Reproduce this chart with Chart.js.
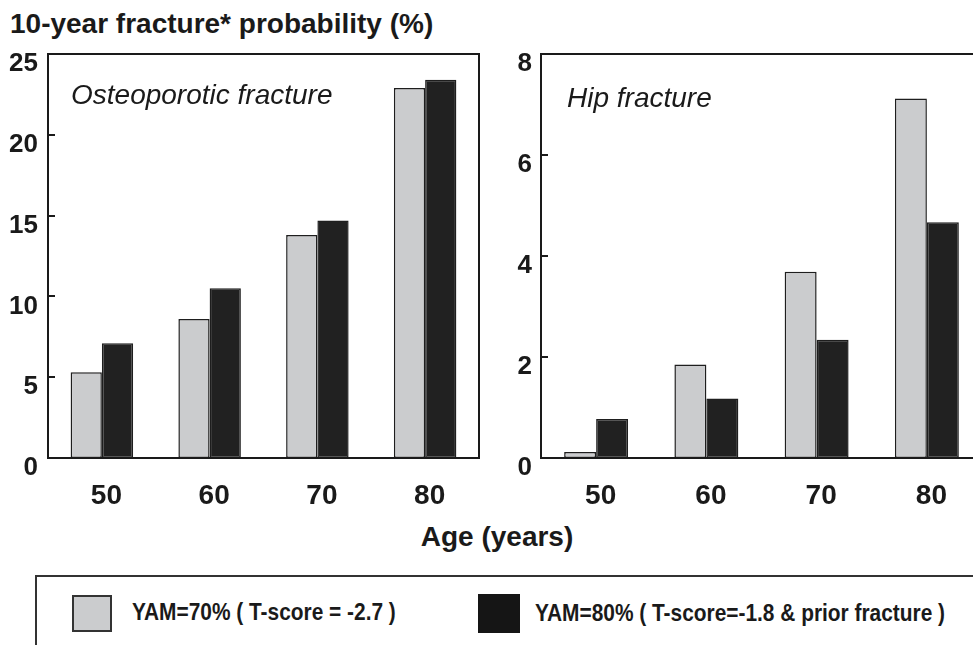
<!DOCTYPE html>
<html>
<head>
<meta charset="utf-8">
<script src="https://cdn.jsdelivr.net/npm/chart.js@4.4.1/dist/chart.umd.min.js"></script>
<style>
  html, body { margin:0; padding:0; background:#fff; }
  body { width:973px; height:645px; overflow:hidden; position:relative; font-family:"Liberation Sans", Arial, sans-serif; color:#1a1a1a; }
  .abs { position:absolute; white-space:nowrap; }
  #title { left:10px; top:10px; font-size:28px; font-weight:bold; line-height:28px; }
  .panelLabel { font-size:28px; font-style:italic; line-height:28px; }
  #xtitle { left:497px; top:523px; font-size:28px; font-weight:bold; line-height:28px; transform:translateX(-50%); }
  #legend { left:35px; top:575px; width:980px; height:90px; border-top:2px solid #333; border-left:2px solid #333; }
  .lgText { font-size:24px; font-weight:bold; line-height:24px; transform:scaleX(0.87); transform-origin:left center; }
  .sw { position:absolute; box-sizing:border-box; }
</style>
</head>
<body>
<div id="title" class="abs">10-year fracture* probability (%)</div>
<canvas id="c1" width="490" height="520" class="abs" style="left:0;top:0;"></canvas>
<canvas id="c2" width="500" height="520" class="abs" style="left:490px;top:0;"></canvas>
<div id="lab1" class="abs panelLabel" style="left:71px;top:81px;"></div>
<div id="lab2" class="abs panelLabel" style="left:567px;top:84px;"></div>
<div id="xtitle" class="abs"></div>
<div id="legend" class="abs"></div>
<div id="sw1" class="sw" style="left:72px;top:595px;width:40px;height:37px;"></div>
<div id="lg1" class="abs lgText" style="left:132px;top:600px;"></div>
<div id="sw2" class="sw" style="left:478px;top:594px;width:42px;height:39px;"></div>
<div id="lg2" class="abs lgText" style="left:535px;top:601px;"></div>
<script>
// ---- data ----
const categories = ['50', '60', '70', '80'];
const seriesLabels = ['YAM=70% ( T-score = -2.7 )', 'YAM=80% ( T-score=-1.8 & prior fracture )'];
const osteoYam70 = [5.3, 8.6, 13.8, 22.9];
const osteoYam80 = [7.1, 10.5, 14.7, 23.4];
const hipYam70 = [0.12, 1.85, 3.69, 7.12];
const hipYam80 = [0.77, 1.18, 2.34, 4.67];
const osteoTicks = [0, 5, 10, 15, 20, 25];
const hipTicks = [0, 2, 4, 6, 8];
const panelTitles = ['Osteoporotic fracture', 'Hip fracture'];
const xAxisTitle = 'Age (years)';

// ---- styles ----
const GRAY = '#cbccce', BLACK = '#212121', EDGE = '#1e1e1e', INK = '#1a1a1a';
const FONT = '"Liberation Sans", Arial, sans-serif';

document.getElementById('lab1').textContent = panelTitles[0];
document.getElementById('lab2').textContent = panelTitles[1];
document.getElementById('xtitle').textContent = xAxisTitle;
document.getElementById('lg1').textContent = seriesLabels[0];
document.getElementById('lg2').textContent = seriesLabels[1];
const sw1 = document.getElementById('sw1');
sw1.style.background = GRAY; sw1.style.border = '2px solid #333';
const sw2 = document.getElementById('sw2');
sw2.style.background = '#151515';

// frame around the plot area + short inward tick marks on the value axis
const boxPlugin = {
  id: 'box',
  afterDraw(chart) {
    const a = chart.chartArea, ctx = chart.ctx, ys = chart.scales.y;
    ctx.save();
    ctx.strokeStyle = INK;
    ctx.lineWidth = 2;
    ctx.strokeRect(a.left, a.top, a.right - a.left, a.bottom - a.top);
    ctx.beginPath();
    ys.ticks.forEach(t => {
      const py = Math.round(ys.getPixelForValue(t.value));
      ctx.moveTo(a.left, py);
      ctx.lineTo(a.left + 7, py);
    });
    ctx.stroke();
    ctx.restore();
  }
};

function makeChart(id, d1, d2, ticks, yWidth, padRight, yPad) {
  const maxV = ticks[ticks.length - 1];
  const step = ticks[1] - ticks[0];
  return new Chart(document.getElementById(id), {
    type: 'bar',
    data: {
      labels: categories,
      datasets: [
        { label: seriesLabels[0], data: d1, backgroundColor: GRAY, borderColor: EDGE, borderWidth: 1.5, borderSkipped: false },
        { label: seriesLabels[1], data: d2, backgroundColor: BLACK, borderColor: EDGE, borderWidth: 1.5, borderSkipped: false }
      ]
    },
    options: {
      responsive: false,
      animation: false,
      devicePixelRatio: 1,
      layout: { padding: { top: 54, left: 0, right: padRight, bottom: 12 } },
      plugins: { legend: { display: false }, title: { display: false }, tooltip: { enabled: false } },
      datasets: { bar: { categoryPercentage: 0.58, barPercentage: 1.0 } },
      scales: {
        x: {
          grid: { display: false, drawTicks: false },
          border: { display: false },
          ticks: { color: INK, font: { family: FONT, size: 28, weight: 'bold' }, padding: 21, labelOffset: 4.5, maxRotation: 0 },
          afterFit(s) { s.height = 50; }
        },
        y: {
          min: 0, max: maxV,
          grid: { display: true, drawOnChartArea: false, drawTicks: false, lineWidth: 0 },
          border: { display: false },
          ticks: { stepSize: step, color: INK, font: { family: FONT, size: 26, weight: 'bold' }, padding: yPad, labelOffset: 10 },
          afterFit(s) { s.width = yWidth; }
        }
      }
    },
    plugins: [boxPlugin]
  });
}

makeChart('c1', osteoYam70, osteoYam80, osteoTicks, 48, 11, 10);
makeChart('c2', hipYam70, hipYam80, hipTicks, 51, 8, 9);
</script>
</body>
</html>
